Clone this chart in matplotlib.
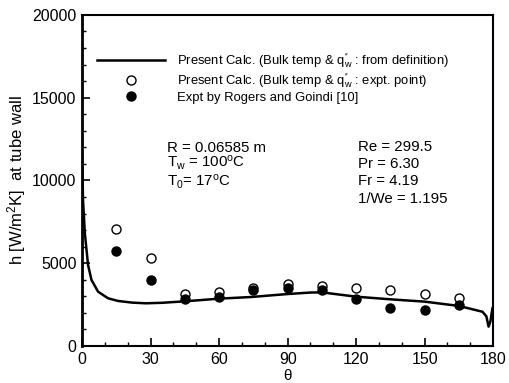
import matplotlib
matplotlib.use("Agg")
import matplotlib.pyplot as plt
from matplotlib.ticker import MultipleLocator

plt.rcParams['font.family'] = ['Liberation Sans', 'DejaVu Sans']
plt.rcParams['mathtext.fontset'] = 'custom'
plt.rcParams['mathtext.rm'] = 'Liberation Sans'
plt.rcParams['mathtext.it'] = 'Liberation Sans'

# Computed wall heat transfer coefficient along the tube circumference
theta_calc = [0, 0.4, 1.2, 2.6, 4.1, 7, 11.4, 15.8, 22, 28, 35, 45, 60, 74,
              90, 100, 105, 120, 135, 150, 165, 175.3, 177, 178, 178.8,
              179.7, 180]
h_calc = [11500, 8800, 6800, 4900, 3990, 3280, 2880, 2720, 2620, 2580, 2610,
          2700, 2860, 2960, 3140, 3230, 3240, 2980, 2820, 2680, 2420, 2070,
          1800, 1170, 1500, 2300, 2350]

# Point values at the experimental stations
theta_pts = [15, 30, 45, 60, 75, 90, 105, 120, 135, 150, 165]
h_calc_pts = [7070, 5320, 3140, 3260, 3500, 3750, 3640, 3500, 3400, 3160, 2920]
h_expt = [5740, 3990, 2860, 2960, 3380, 3520, 3360, 2820, 2280, 2180, 2480]

qw = r'q$^{\prime\prime}_{\mathrm{w}}$'

fig = plt.figure(figsize=(5.1, 3.83), dpi=100)
ax = fig.add_axes([0.161, 0.0966, 0.806, 0.8644])

ax.plot(theta_calc, h_calc, color='black', lw=1.8,
        label='Present Calc. (Bulk temp & ' + qw + ' : from definition)')
ax.plot(theta_pts, h_calc_pts, 'o', mfc='white', mec='black', mew=1.0, ms=6.5,
        label='Present Calc. (Bulk temp & ' + qw + ' : expt. point)')
ax.plot(theta_pts, h_expt, 'o', mfc='black', mec='black', ms=6.5,
        label='Expt by Rogers and Goindi [10]')

ax.set_xlim(0, 180)
ax.set_ylim(0, 20000)
ax.xaxis.set_major_locator(MultipleLocator(30))
ax.xaxis.set_minor_locator(MultipleLocator(10))
ax.yaxis.set_major_locator(MultipleLocator(5000))
ax.yaxis.set_minor_locator(MultipleLocator(1000))
ax.tick_params(which='both', direction='in', top=False, right=False,
               labelsize=11.5)
ax.tick_params(which='major', length=6, width=1.2, pad=4)
ax.tick_params(which='minor', length=3, width=1)
for s in ax.spines.values():
    s.set_linewidth(1.5)
ax.spines['left'].set_linewidth(2)

ax.set_xlabel(r'$\theta$', fontsize=11, labelpad=1)
ax.set_ylabel(r'h [W/m$^2$K]  at tube wall', fontsize=12, labelpad=3)

leg = ax.legend(loc='upper left', bbox_to_anchor=(0.037, 0.89), frameon=False,
                fontsize=9.4, handlelength=5.2, handletextpad=0.9,
                labelspacing=0.1, borderaxespad=0, borderpad=0)

ann = dict(transform=ax.transAxes, fontsize=10.8, va='center')
ax.text(0.207, 0.598, 'R = 0.06585 m', **ann)
ax.text(0.207, 0.553, r'T$_\mathrm{w}$ = 100$^\mathrm{o}$C', **ann)
ax.text(0.207, 0.497, r'T$_\mathrm{0}$= 17$^\mathrm{o}$C', **ann)
ax.text(0.672, 0.601, 'Re = 299.5', **ann)
ax.text(0.672, 0.550, 'Pr = 6.30', **ann)
ax.text(0.672, 0.498, 'Fr = 4.19', **ann)
ax.text(0.672, 0.444, '1/We = 1.195', **ann)

fig.savefig('out.png', dpi=100)
